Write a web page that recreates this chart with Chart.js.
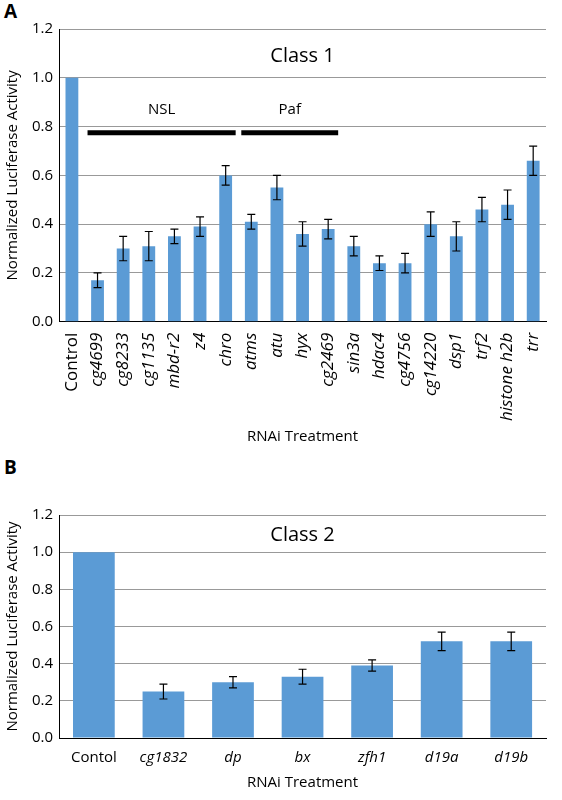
<!DOCTYPE html>
<html><head><meta charset="utf-8">
<script src="https://cdn.jsdelivr.net/npm/chart.js@4/dist/chart.umd.min.js"></script>
<style>
body{margin:0;background:#fff;font-family:"Open Sans",sans-serif}
.wrap{position:absolute;left:0;width:562px}
.lab{position:absolute;left:4px;font:bold 19px "Open Sans",sans-serif}
</style></head><body>
<div class="lab" style="top:-2px">A</div>
<div class="wrap" style="top:14px;height:436px"><canvas id="cA"></canvas></div>
<div class="lab" style="top:454px">B</div>
<div class="wrap" style="top:500px;height:296px"><canvas id="cB"></canvas></div>
<script>
const catsA = ["Control","cg4699","cg8233","cg1135","mbd-r2","z4","chro","atms","atu","hyx","cg2469","sin3a","hdac4","cg4756","cg14220","dsp1","trf2","histone h2b","trr"];
const valsA = [1.0,0.17,0.30,0.31,0.35,0.39,0.60,0.41,0.55,0.36,0.38,0.31,0.24,0.24,0.40,0.35,0.46,0.48,0.66];
const errA  = [0,0.03,0.05,0.06,0.03,0.04,0.04,0.03,0.05,0.05,0.04,0.04,0.03,0.04,0.05,0.06,0.05,0.06,0.06];
const catsB = ["Contol","cg1832","dp","bx","zfh1","d19a","d19b"];
const valsB = [1.0,0.25,0.30,0.33,0.39,0.52,0.52];
const errB  = [0,0.04,0.03,0.04,0.03,0.05,0.05];
const ticksY = [0,0.2,0.4,0.6,0.8,1.0,1.2];
const groupsA = [{name:"NSL",from:1,to:6},{name:"Paf",from:7,to:10}];

const barColor = "#5b9bd5";

function errPlugin(errs, title, groups){
  return {id:"extra", afterDatasetsDraw(chart){
    const c = chart.ctx, x = chart.scales.x, y = chart.scales.y;
    const vals = chart.data.datasets[0].data;
    c.save(); c.strokeStyle="#000"; c.lineWidth=1.2;
    vals.forEach((v,i)=>{
      if(!errs[i]) return;
      const px=x.getPixelForValue(i), t=y.getPixelForValue(v+errs[i]), b=y.getPixelForValue(v-errs[i]);
      c.beginPath(); c.moveTo(px,t); c.lineTo(px,b);
      c.moveTo(px-4,t); c.lineTo(px+4,t); c.moveTo(px-4,b); c.lineTo(px+4,b); c.stroke();
    });
    c.fillStyle="#000"; c.textAlign="center"; c.textBaseline="middle";
    c.font='20px "Open Sans",sans-serif';
    c.fillText(title,(chart.chartArea.left+chart.chartArea.right)/2,y.getPixelForValue(1.09));
    c.font='15px "Open Sans",sans-serif';
    (groups||[]).forEach(g=>{
      const a=x.getPixelForValue(g.from)-10, b=x.getPixelForValue(g.to)+10;
      c.fillText(g.name,(a+b)/2,y.getPixelForValue(0.87));
      c.lineWidth=5; c.beginPath(); c.moveTo(a,y.getPixelForValue(0.775)); c.lineTo(b,y.getPixelForValue(0.775)); c.stroke();
    });
    c.restore();
  }};
}

function make(id, cats, vals, errs, title, groups, rot, barPct, fs){
  new Chart(document.getElementById(id),{
    type:"bar",
    data:{labels:cats,datasets:[{data:vals,backgroundColor:barColor,barPercentage:barPct,categoryPercentage:1}]},
    options:{
      responsive:true,maintainAspectRatio:false,animation:false,
      layout:{padding:{right:16,top:12}},
      plugins:{legend:{display:false},tooltip:{enabled:false}},
      scales:{
        x:{grid:{display:false},border:{color:"#000"},
           ticks:{color:"#000",maxRotation:rot,minRotation:rot,autoSkip:false,
             font:ctx=>({family:"Open Sans",size:fs,style:ctx.index===0?"normal":"italic"})},
           title:{display:true,text:"RNAi Treatment",color:"#000",font:{family:"Open Sans",size:15}}},
        y:{min:0,max:1.2,afterBuildTicks:a=>{a.ticks=ticksY.map(v=>({value:v}));},
           grid:{color:"#999",drawTicks:false},border:{color:"#000"},
           ticks:{color:"#000",padding:6,font:{family:"Open Sans",size:15},callback:v=>v.toFixed(1)},
           title:{display:true,text:"Normalized Luciferase Activity",color:"#000",font:{family:"Open Sans",size:15}}}
      }
    },
    plugins:[errPlugin(errs,title,groups)]
  });
}
make("cA",catsA,valsA,errA,"Class 1",groupsA,90,0.5,17);
make("cB",catsB,valsB,errB,"Class 2",null,0,0.6,15);
</script></body></html>
